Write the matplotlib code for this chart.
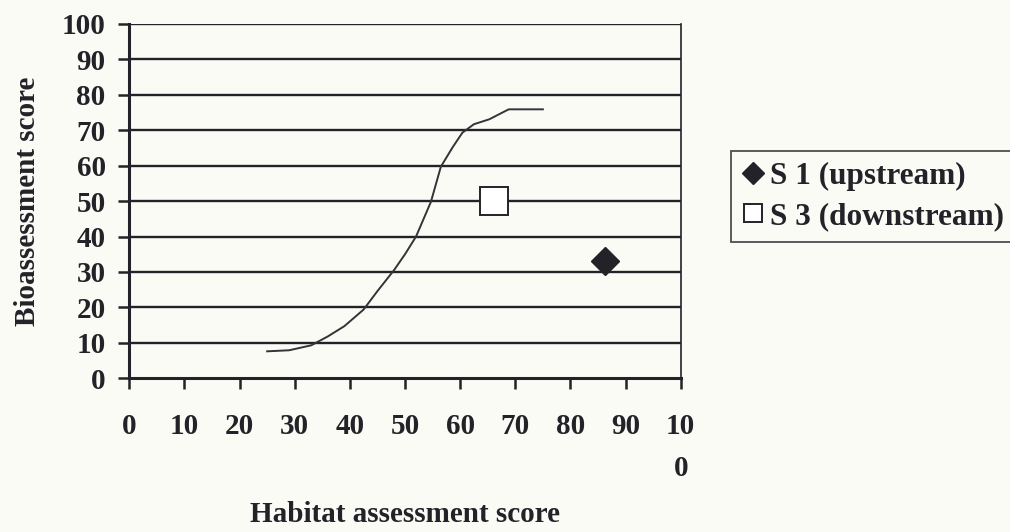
import matplotlib
matplotlib.use('Agg')
import matplotlib.pyplot as plt

# reference curve
curve_x = [25, 29, 33, 36, 39, 42.5, 45, 48, 50, 52, 54.7, 56.5, 58.6, 60.4, 62.5, 65.3, 68.8, 75]
curve_y = [7.6, 7.9, 9.3, 11.8, 14.7, 19.4, 24.6, 30.5, 35, 40, 49.8, 59.7, 65.1, 69.3, 71.7, 73.1, 75.9, 75.9]

# sites
s1_x, s1_y = [86.2], [33]
s3_x, s3_y = [66.2], [50]

xticks = list(range(0, 101, 10))
xticklabels = [str(v) for v in xticks[:-1]] + ['10\n0']
yticks = list(range(0, 101, 10))

plt.rcParams['font.family'] = ['Liberation Serif', 'DejaVu Serif']
plt.rcParams['font.weight'] = 'bold'

bg = '#fbfbf6'
ink = '#222228'
fig = plt.figure(figsize=(10.1, 5.32), dpi=100, facecolor=bg)
ax = fig.add_axes([0.128, 0.289, 0.546, 0.666], facecolor=bg)

for v in yticks[1:]:
    ax.axhline(v, color=ink, lw=1.7, zorder=1)

ax.plot(curve_x, curve_y, color='#333338', lw=1.4, zorder=2)
ax.plot(s1_x, s1_y, ls='none', marker='D', ms=14, mfc=ink, mec=ink,
        label='S 1 (upstream)', zorder=3)
ax.plot(s3_x, s3_y, ls='none', marker='s', ms=20, mfc='white', mec=ink, mew=1.4,
        label='S 3 (downstream)', zorder=3)

ax.set_xlim(0, 100)
ax.set_ylim(0, 100)
ax.set_xticks(xticks)
ax.set_xticklabels(xticklabels, fontsize=21, fontweight='bold', va='top', linespacing=1.7)
ax.set_yticks(yticks)
ax.set_yticklabels([str(v) for v in yticks], fontsize=21, fontweight='bold')
ax.tick_params(axis='x', direction='out', length=8, width=1.8, pad=17, color=ink, labelcolor=ink)
ax.tick_params(axis='y', direction='out', length=8, width=1.8, pad=9, color=ink, labelcolor=ink)

for s in ['left', 'bottom']:
    ax.spines[s].set_linewidth(2.2)
    ax.spines[s].set_color(ink)
ax.spines['right'].set_linewidth(1.2)
ax.spines['right'].set_color(ink)
ax.spines['top'].set_visible(False)

ax.set_xlabel('Habitat assessment score', fontsize=21, fontweight='bold', labelpad=14, color=ink)
ax.set_ylabel('Bioassessment score', fontsize=21, fontweight='bold', labelpad=15, color=ink)

leg = ax.legend(loc='center left', bbox_to_anchor=(0.724, 0.63), bbox_transform=fig.transFigure,
                frameon=True, fancybox=False, handlelength=0.7,
                handletextpad=0.2, borderpad=0.35, labelspacing=0.35, borderaxespad=0,
                prop={'weight': 'bold', 'size': 22.5})
leg.legend_handles[0].set_markersize(11)
leg.legend_handles[1].set_markersize(13)
for t in leg.get_texts():
    t.set_color(ink)
leg.get_frame().set_edgecolor(ink)
leg.get_frame().set_linewidth(1.3)
leg.get_frame().set_facecolor(bg)

fig.savefig('out.png', dpi=100, facecolor=bg)
